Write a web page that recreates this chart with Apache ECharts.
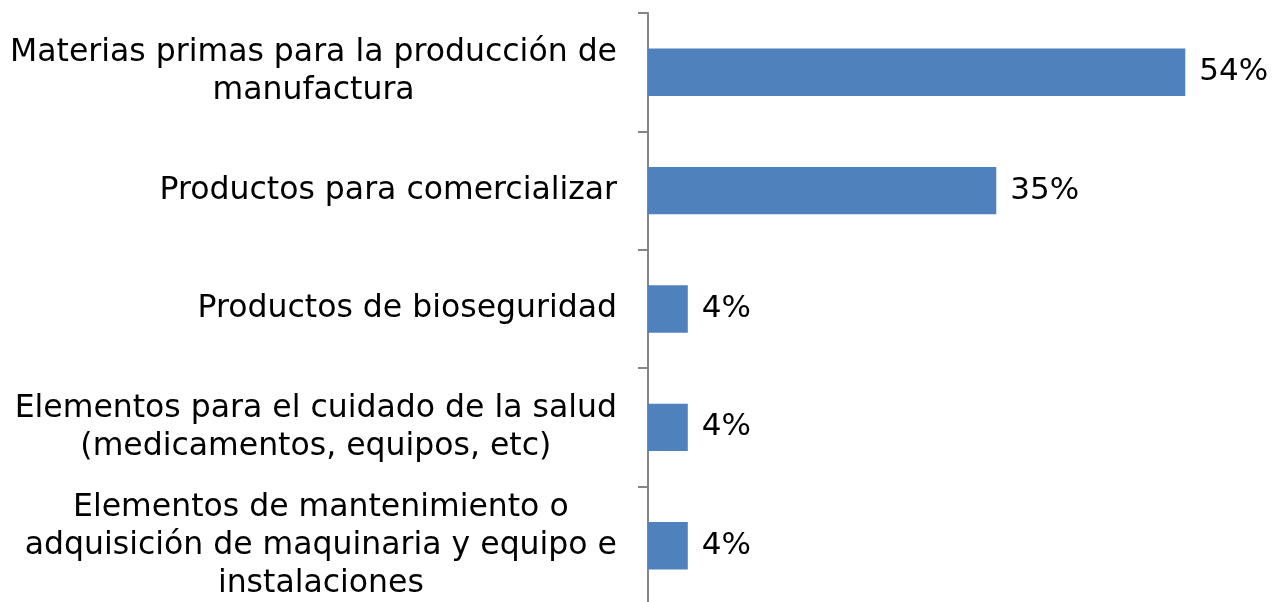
<!DOCTYPE html>
<html>
<head>
<meta charset="utf-8">
<script src="https://cdn.jsdelivr.net/npm/echarts@6/dist/echarts.min.js"></script>
<style>
  html, body { margin: 0; padding: 0; background: #ffffff; }
  #chart { width: 1274px; height: 602px; }
</style>
</head>
<body>
<div id="chart"></div>
<script>
// categorías (de arriba a abajo)
var categories = [
  "Materias primas para la producción de\nmanufactura",
  "Productos para comercializar",
  "Productos de bioseguridad",
  "Elementos para el cuidado de la salud\n(medicamentos, equipos, etc)",
  "Elementos de mantenimiento o\nadquisición de maquinaria y equipo e\ninstalaciones"
];
// porcentajes
var values = [54, 35, 4, 4, 4];

var FONT = "DejaVu Sans";

var chart = echarts.init(document.getElementById("chart"));
chart.setOption({
  animation: false,
  backgroundColor: "#ffffff",
  // v6: sin outerBounds para que la rejilla pueda salir por abajo
  grid: { left: 648, right: 29, top: 13, height: 592, containLabel: false, outerBoundsMode: "none" },
  xAxis: {
    type: "value",
    min: 0,
    max: 60,
    show: false
  },
  yAxis: {
    type: "category",
    inverse: true,
    data: categories,
    axisLine: { show: true, lineStyle: { color: "#868686", width: 2 } },
    axisTick: { show: true, length: 10, lineStyle: { color: "#868686", width: 2 } },
    axisLabel: {
      margin: 31,
      color: "#000",
      fontFamily: FONT,
      fontSize: 31.5,
      lineHeight: 38,
      // centrar cada línea dentro del bloque
      formatter: function (v) {
        return v.split("\n").map(function (s) { return "{c|" + s + "}"; }).join("\n");
      },
      rich: {
        c: { align: "center", fontFamily: FONT, fontSize: 31.5, lineHeight: 38, color: "#000" }
      }
    },
    splitLine: { show: false }
  },
  series: [
    {
      type: "bar",
      data: values,
      barCategoryGap: "60%",
      itemStyle: { color: "#4f81bd" },
      label: {
        show: true,
        position: "right",
        distance: 14,
        formatter: "{c}%",
        color: "#000",
        fontFamily: FONT,
        fontSize: 31
      }
    }
  ]
});
</script>
</body>
</html>
